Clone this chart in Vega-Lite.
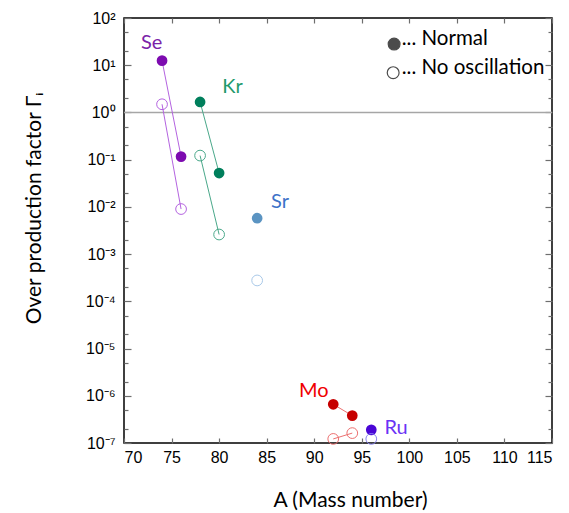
{
  "$schema": "https://vega.github.io/schema/vega-lite/v6.json",
  "width": 428,
  "height": 425,
  "autosize": "none",
  "padding": {"left": 124, "top": 18, "right": 17, "bottom": 70},
  "background": "white",
  "config": {
    "view": {"stroke": "black", "strokeWidth": 1.5},
    "axis": {"grid": false, "domain": false, "ticks": true, "zindex": 1, "tickColor": "#6e6e6e", "tickWidth": 1.2, "labelFont": "Liberation Sans", "labelFontSize": 16, "labelColor": "black", "titleFont": "Lato", "titleFontWeight": "normal", "titleColor": "black", "titleFontSize": 21}
  },
  "datasets": {
    "pts": [
      {"el": "Se", "type": "Normal", "series": "Se Normal", "A": 74, "G": 12.5},
      {"el": "Se", "type": "Normal", "series": "Se Normal", "A": 76, "G": 0.116},
      {"el": "Se", "type": "No oscillation", "series": "Se No oscillation", "A": 74, "G": 1.49},
      {"el": "Se", "type": "No oscillation", "series": "Se No oscillation", "A": 76, "G": 0.009},
      {"el": "Kr", "type": "Normal", "series": "Kr Normal", "A": 78, "G": 1.67},
      {"el": "Kr", "type": "Normal", "series": "Kr Normal", "A": 80, "G": 0.052},
      {"el": "Kr", "type": "No oscillation", "series": "Kr No oscillation", "A": 78, "G": 0.122},
      {"el": "Kr", "type": "No oscillation", "series": "Kr No oscillation", "A": 80, "G": 0.0026},
      {"el": "Sr", "type": "Normal", "series": "Sr Normal", "A": 84, "G": 0.00575},
      {"el": "Sr", "type": "No oscillation", "series": "Sr No oscillation", "A": 84, "G": 0.000277},
      {"el": "Mo", "type": "Normal", "series": "Mo Normal", "A": 92, "G": 6.6e-7},
      {"el": "Mo", "type": "Normal", "series": "Mo Normal", "A": 94, "G": 3.8e-7},
      {"el": "Mo", "type": "No oscillation", "series": "Mo No oscillation", "A": 92, "G": 1.22e-7},
      {"el": "Mo", "type": "No oscillation", "series": "Mo No oscillation", "A": 94, "G": 1.62e-7},
      {"el": "Ru", "type": "Normal", "series": "Ru Normal", "A": 96, "G": 1.9e-7},
      {"el": "Ru", "type": "No oscillation", "series": "Ru No oscillation", "A": 96, "G": 1.22e-7}
    ],
    "labels": [
      {"label": "Se", "A": 72.9, "G": 29.2},
      {"label": "Kr", "A": 81.4, "G": 3.41},
      {"label": "Sr", "A": 86.4, "G": 0.0124},
      {"label": "Mo", "A": 89.95, "G": 1.24e-6},
      {"label": "Ru", "A": 98.6, "G": 2.08e-7}
    ],
    "legend": [
      {"type": "Normal", "text": "... Normal", "A": 98.4, "G": 28, "TA": 99.2, "TG": 35.4},
      {"type": "No oscillation", "text": "... No oscillation", "A": 98.3, "G": 6.96, "TA": 99.2, "TG": 8.6}
    ],
    "one": [{"G": 1}]
  },
  "resolve": {"scale": {"color": "independent"}, "axis": {"x": "independent", "y": "independent"}},
  "layer": [
    {
      "data": {"name": "one"},
      "mark": {"type": "rule", "color": "#a6a6a6", "strokeWidth": 1.5},
      "encoding": {
        "y": {"field": "G", "type": "quantitative", "scale": {"type": "log", "domain": [1e-7, 100]}, "axis": null}
      }
    },
    {
      "data": {"name": "pts"},
      "mark": {"type": "point", "opacity": 0},
      "encoding": {
        "x": {"field": "A", "type": "quantitative", "scale": {"domain": [70, 115], "nice": false, "zero": false},
          "axis": {"orient": "bottom", "values": [70, 75, 80, 85, 90, 95, 100, 105, 110, 115], "offset": -5, "tickSize": 5, "labelPadding": 6, "title": "A (Mass number)", "titleX": 226, "titleY": 62, "titleBaseline": "middle"}},
        "y": {"field": "G", "type": "quantitative", "scale": {"type": "log", "domain": [1e-7, 100]},
          "axis": {"orient": "left", "title": "Over production factor   Γᵢ", "titleX": -97, "titleY": 190, "titleAngle": -90, "titleAlign": "center", "titleBaseline": "middle",
            "values": [1e-7, 1e-6, 1e-5, 1e-4, 0.001, 0.01, 0.1, 1, 10, 100],
            "offset": -7, "tickSize": 7, "labelPadding": 9,
            "labelExpr": "['10⁻⁷','10⁻⁶','10⁻⁵','10⁻⁴','10⁻³','10⁻²','10⁻¹','10⁰','10¹','10²'][round(log(datum.value)/LN10) + 7]"}}
      }
    },
    {
      "data": {"name": "pts"},
      "mark": {"type": "point", "opacity": 0},
      "encoding": {
        "x": {"field": "A", "type": "quantitative",
          "axis": {"orient": "top", "values": [70, 75, 80, 85, 90, 95, 100, 105, 110, 115], "labels": false, "title": null, "offset": -5, "tickSize": 5}},
        "y": {"field": "G", "type": "quantitative", "scale": {"type": "log"},
          "axis": {"orient": "right", "labels": false, "title": null, "values": [1e-7, 1e-6, 1e-5, 1e-4, 0.001, 0.01, 0.1, 1, 10, 100], "offset": -7, "tickSize": 7}}
      }
    },
    {
      "data": {"name": "pts"},
      "mark": {"type": "point", "opacity": 0},
      "encoding": {
        "y": {"field": "G", "type": "quantitative", "scale": {"type": "log"},
          "axis": {"orient": "left", "labels": false, "title": null, "offset": -4, "tickSize": 4,
            "values": [2e-7, 5e-7, 2e-6, 5e-6, 2e-5, 5e-5, 2e-4, 5e-4, 0.002, 0.005, 0.02, 0.05, 0.2, 0.5, 2, 5, 20, 50]}}
      }
    },
    {
      "data": {"name": "pts"},
      "mark": {"type": "point", "opacity": 0},
      "encoding": {
        "y": {"field": "G", "type": "quantitative", "scale": {"type": "log"},
          "axis": {"orient": "right", "labels": false, "title": null, "offset": -4, "tickSize": 4,
            "values": [2e-7, 5e-7, 2e-6, 5e-6, 2e-5, 5e-5, 2e-4, 5e-4, 0.002, 0.005, 0.02, 0.05, 0.2, 0.5, 2, 5, 20, 50]}}
      }
    },
    {
      "data": {"name": "pts"},
      "mark": {"type": "line", "strokeWidth": 1},
      "encoding": {
        "x": {"field": "A", "type": "quantitative", "axis": null},
        "y": {"field": "G", "type": "quantitative", "scale": {"type": "log"}, "axis": null},
        "detail": {"field": "series"},
        "color": {"field": "el", "type": "nominal", "legend": null,
          "scale": {"domain": ["Se", "Kr", "Sr", "Mo", "Ru"], "range": ["#b463e0", "#4aa88a", "#a8c8e8", "#ec7070", "#8a84f0"]}}
      }
    },
    {
      "data": {"name": "pts"},
      "transform": [{"filter": "datum.type == 'Normal'"}],
      "mark": {"type": "point", "shape": "circle", "filled": true, "opacity": 1, "size": 115},
      "encoding": {
        "x": {"field": "A", "type": "quantitative", "axis": null},
        "y": {"field": "G", "type": "quantitative", "scale": {"type": "log"}, "axis": null},
        "color": {"field": "el", "type": "nominal", "legend": null,
          "scale": {"domain": ["Se", "Kr", "Sr", "Mo", "Ru"], "range": ["#7d0bb0", "#007f5c", "#5b94c2", "#c60000", "#4a06d6"]}}
      }
    },
    {
      "data": {"name": "pts"},
      "transform": [{"filter": "datum.type == 'No oscillation'"}],
      "mark": {"type": "point", "shape": "circle", "filled": false, "opacity": 1, "size": 115, "strokeWidth": 1},
      "encoding": {
        "x": {"field": "A", "type": "quantitative", "axis": null},
        "y": {"field": "G", "type": "quantitative", "scale": {"type": "log"}, "axis": null},
        "color": {"field": "el", "type": "nominal", "legend": null,
          "scale": {"domain": ["Se", "Kr", "Sr", "Mo", "Ru"], "range": ["#b463e0", "#4aa88a", "#a8c8e8", "#ec7070", "#8a84f0"]}}
      }
    },
    {
      "data": {"name": "labels"},
      "mark": {"type": "text", "font": "Lato", "fontSize": 20, "align": "center", "baseline": "middle"},
      "encoding": {
        "x": {"field": "A", "type": "quantitative", "axis": null},
        "y": {"field": "G", "type": "quantitative", "scale": {"type": "log"}, "axis": null},
        "text": {"field": "label"},
        "color": {"field": "label", "type": "nominal", "legend": null,
          "scale": {"domain": ["Se", "Kr", "Sr", "Mo", "Ru"], "range": ["#7b22a8", "#1f9a6c", "#3d72c8", "#f00000", "#6a33f5"]}}
      }
    },
    {
      "data": {"name": "legend"},
      "mark": {"type": "point", "shape": "circle", "color": "black", "size": 140, "strokeWidth": 1.2},
      "encoding": {
        "x": {"field": "A", "type": "quantitative", "axis": null},
        "y": {"field": "G", "type": "quantitative", "scale": {"type": "log"}, "axis": null},
        "fill": {"field": "type", "type": "nominal", "legend": null, "scale": {"domain": ["Normal", "No oscillation"], "range": ["black", "transparent"]}},
        "fillOpacity": {"value": 1}
      }
    },
    {
      "data": {"name": "legend"},
      "mark": {"type": "text", "font": "Lato", "fontSize": 20.5, "align": "left", "baseline": "middle", "color": "black"},
      "encoding": {
        "x": {"field": "TA", "type": "quantitative", "axis": null},
        "y": {"field": "TG", "type": "quantitative", "scale": {"type": "log"}, "axis": null},
        "text": {"field": "text"}
      }
    }
  ]
}
